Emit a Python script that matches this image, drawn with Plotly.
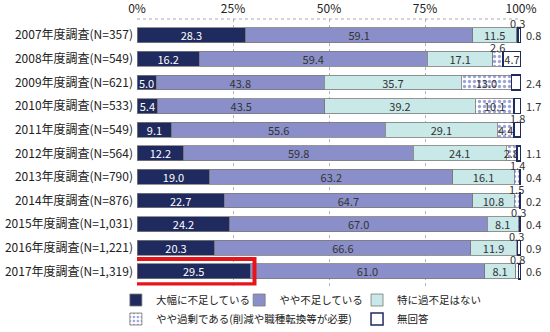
import plotly.graph_objects as go

categories = ["2007年度調査(N=357)", "2008年度調査(N=549)", "2009年度調査(N=621)",
              "2010年度調査(N=533)", "2011年度調査(N=549)", "2012年度調査(N=564)",
              "2013年度調査(N=790)", "2014年度調査(N=876)", "2015年度調査(N=1,031)",
              "2016年度調査(N=1,221)", "2017年度調査(N=1,319)"]
severe_shortage = [28.3, 16.2, 5.0, 5.4, 9.1, 12.2, 19.0, 22.7, 24.2, 20.3, 29.5]
slight_shortage = [59.1, 59.4, 43.8, 43.5, 55.6, 59.8, 63.2, 64.7, 67.0, 66.6, 61.0]
no_issue = [11.5, 17.1, 35.7, 39.2, 29.1, 24.1, 16.1, 10.8, 8.1, 11.9, 8.1]
surplus = [0.3, 2.6, 13.0, 10.1, 4.4, 2.8, 1.4, 1.5, 0.3, 0.3, 0.8]
no_answer = [0.8, 4.7, 2.4, 1.7, 1.8, 1.1, 0.4, 0.2, 0.4, 0.9, 0.6]
series_names = ["大幅に不足している", "やや不足している", "特に過不足はない",
                "やや過剰である(削減や職種転換等が必要)", "無回答"]
x_ticks = [0, 25, 50, 75, 100]
x_tick_labels = ["0%", "25%", "50%", "75%", "100%"]

# label placement for small segments
surplus_label_pos = ["above", "above", "inside", "inside", "inside", "inside",
                     "above", "above", "above", "above", "above"]
no_answer_label_pos = ["right", "inside", "right", "right", "above", "right",
                       "right", "right", "right", "right", "right"]

FONT = "Noto Sans CJK JP"
NAVY = "#1f2a5e"
series_data = [severe_shortage, slight_shortage, no_issue, surplus, no_answer]
colors = [NAVY, "#8a8fc9", "#c9e8e8", "white", "white"]
text_colors = ["white", "#333", "#333", "#333", "#333"]
legends = ["legend", "legend2", "legend3", "legend", "legend3"]

fig = go.Figure()
for i, (name, vals) in enumerate(zip(series_names, series_data)):
    if i == 3:
        texts = [f"{v:.1f}" if p == "inside" else "" for v, p in zip(vals, surplus_label_pos)]
    elif i == 4:
        texts = [f"{v:.1f}" if p == "inside" else "" for v, p in zip(vals, no_answer_label_pos)]
    else:
        texts = [f"{v:.1f}" for v in vals]
    marker = dict(color=colors[i], line=dict(color="#7a7a7a", width=0.8))
    if i == 3:
        marker["pattern"] = dict(shape=".", fgcolor="#3a4ab0", bgcolor="white",
                                 size=5, solidity=0.35)
    if i == 4:
        marker["line"] = dict(color=NAVY, width=1.5)
    fig.add_trace(go.Bar(
        y=categories, x=vals, name=name, orientation="h", marker=marker,
        text=texts, textposition="inside", insidetextanchor="middle", textangle=0,
        textfont=dict(color=text_colors[i], size=11, family=FONT),
        legend=legends[i], legendgroup=f"g{i}", width=0.63, hoverinfo="skip",
    ))

annotations = []
for j, cat in enumerate(categories):
    base_sur = severe_shortage[j] + slight_shortage[j] + no_issue[j]
    if surplus_label_pos[j] == "above":
        annotations.append(dict(x=base_sur + surplus[j] / 2, y=cat, text=f"{surplus[j]:.1f}",
                                showarrow=False, yshift=12, xanchor="center",
                                font=dict(size=11, color="#333", family=FONT)))
    base_na = base_sur + surplus[j]
    if no_answer_label_pos[j] == "above":
        annotations.append(dict(x=min(base_na + no_answer[j] / 2, 99.1), y=cat,
                                text=f"{no_answer[j]:.1f}", showarrow=False, yshift=12,
                                xanchor="center", font=dict(size=11, color="#333", family=FONT)))
    elif no_answer_label_pos[j] == "right":
        annotations.append(dict(x=100, y=cat, text=f"{no_answer[j]:.1f}", showarrow=False,
                                xanchor="left", xshift=3,
                                font=dict(size=11, color="#333", family=FONT)))

shapes = [
    dict(type="line", xref="x", yref="paper", x0=0, x1=100, y0=1.0, y1=1.0,
         line=dict(color="#aaaaaa", width=1, dash="dot")),
    dict(type="rect", xref="x", yref="y", x0=-0.5, x1=30.6,
         y0=len(categories) - 1 - 0.52, y1=len(categories) - 1 + 0.55,
         line=dict(color="#e8141c", width=4), fillcolor="rgba(0,0,0,0)", layer="above"),
]

legend_common = dict(orientation="v", yref="container", yanchor="top", y=0.14,
                     xanchor="left",
                     font=dict(size=10.5, color="#222", family=FONT), itemwidth=30,
                     tracegroupgap=3, bgcolor="rgba(0,0,0,0)", itemclick=False,
                     traceorder="normal")

fig.update_layout(
    barmode="stack",
    width=550, height=332,
    margin=dict(l=137, r=29, t=19, b=43),
    paper_bgcolor="white", plot_bgcolor="white",
    font=dict(family=FONT, size=12, color="#222"),
    uniformtext=dict(minsize=11, mode="show"),
    xaxis=dict(side="top", range=[0, 100], tickvals=x_ticks, ticktext=x_tick_labels,
               showgrid=True, gridcolor="#b5b5b5", griddash="dot", gridwidth=1,
               zeroline=False, showline=False, ticks="", automargin=False,
               ticklabelstandoff=3,
               tickfont=dict(size=12, color="#222", family=FONT), fixedrange=True),
    yaxis=dict(range=[len(categories) - 1 + 0.6, -0.69], showgrid=False, zeroline=False,
               ticks="", ticklabelstandoff=3, automargin=False,
               tickfont=dict(size=12, color="#222", family=FONT), fixedrange=True),
    showlegend=True,
    legend=dict(**legend_common, x=-0.055),
    legend2=dict(**legend_common, x=0.266),
    legend3=dict(**legend_common, x=0.573),
    annotations=annotations,
    shapes=shapes,
)

fig.write_html("out.html")
